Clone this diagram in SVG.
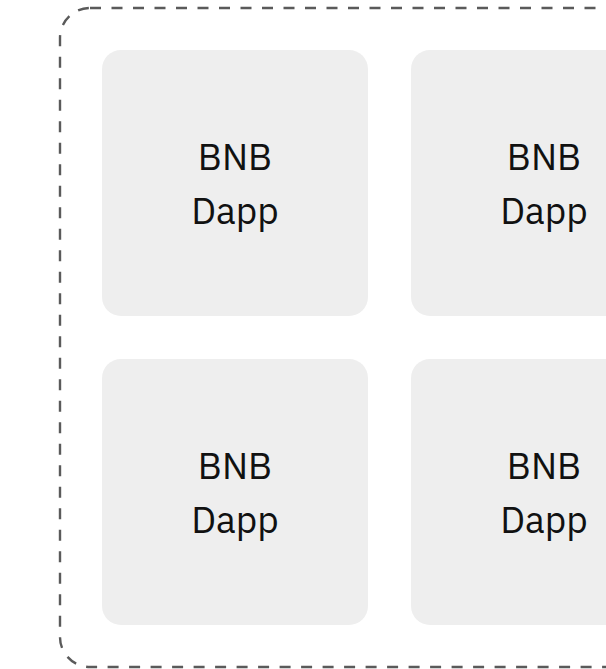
<svg xmlns="http://www.w3.org/2000/svg" width="606" height="669" viewBox="0 0 606 669">
  <style>
    .frame { fill: none; stroke: #5a5a5a; stroke-width: 2.4; stroke-dasharray: 11 10.5; }
    .box { fill: #eeeeee; }
    .lbl { font-family: "IBM Plex Sans", "Open Sans", "Roboto", sans-serif; font-size: 37px; fill: #111111; text-anchor: middle; }
  </style>
  <rect width="606" height="669" fill="#ffffff"/>
  <rect id="group" class="frame" x="60" y="8" width="620" height="659" rx="30" ry="30"/>
  <g id="node1">
    <rect class="box" x="102" y="50" width="266" height="266" rx="19" ry="19"/>
    <text class="lbl" x="235" y="170">BNB</text>
    <text class="lbl" x="235" y="224">Dapp</text>
  </g>
  <g id="node2">
    <rect class="box" x="411" y="50" width="266" height="266" rx="19" ry="19"/>
    <text class="lbl" x="544" y="170">BNB</text>
    <text class="lbl" x="544" y="224">Dapp</text>
  </g>
  <g id="node3">
    <rect class="box" x="102" y="359" width="266" height="266" rx="19" ry="19"/>
    <text class="lbl" x="235" y="479">BNB</text>
    <text class="lbl" x="235" y="533">Dapp</text>
  </g>
  <g id="node4">
    <rect class="box" x="411" y="359" width="266" height="266" rx="19" ry="19"/>
    <text class="lbl" x="544" y="479">BNB</text>
    <text class="lbl" x="544" y="533">Dapp</text>
  </g>
  <g id="connectors"></g>
</svg>
